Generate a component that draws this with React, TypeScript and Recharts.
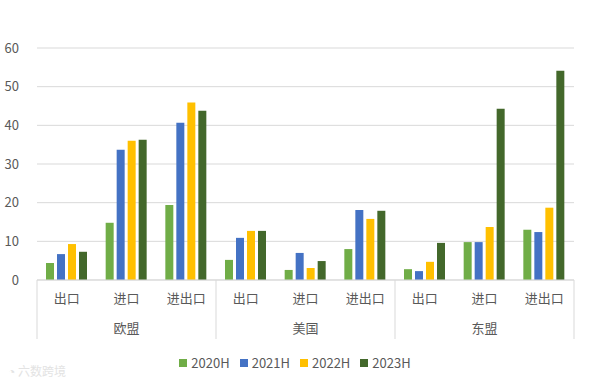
import React from "react";
import { BarChart, Bar, XAxis, YAxis, CartesianGrid, Legend } from "recharts";

const groups = ["欧盟", "美国", "东盟"];
const subs = ["出口", "进口", "进出口"];
const s2020 = [4.4, 14.8, 19.4, 5.2, 2.6, 8.0, 2.8, 9.8, 13.0];
const s2021 = [6.7, 33.7, 40.7, 10.9, 7.0, 18.1, 2.3, 9.8, 12.4];
const s2022 = [9.3, 36.0, 45.9, 12.7, 3.1, 15.8, 4.7, 13.7, 18.7];
const s2023 = [7.3, 36.3, 43.8, 12.7, 4.9, 17.9, 9.6, 44.3, 54.1];
const yTicks = [0, 10, 20, 30, 40, 50, 60];

const data = s2020.map((_, i) => ({
  key: `${groups[Math.floor(i / 3)]}-${subs[i % 3]}`,
  sub: subs[i % 3],
  group: groups[Math.floor(i / 3)],
  "2020H": s2020[i],
  "2021H": s2021[i],
  "2022H": s2022[i],
  "2023H": s2023[i],
}));

const series = [
  { key: "2020H", color: "#70AD47" },
  { key: "2021H", color: "#4472C4" },
  { key: "2022H", color: "#FFC000" },
  { key: "2023H", color: "#43682B" },
];

const FONT = "'Noto Sans CJK SC', 'Noto Sans', sans-serif";
const TEXT = "#595959";
const LINE = "#D9D9D9";
const PLOT_LEFT = 37;
const PLOT_RIGHT = 574;
const CAT_W = (PLOT_RIGHT - PLOT_LEFT) / 9;
const TICK_OFF = 8;

const CatTick = (props: any) => {
  const { x, y, index } = props;
  const top = y - TICK_OFF;
  const sub = data[index].sub;
  const grp = data[index].group;
  const els: any[] = [];
  els.push(
    <text key="s" x={x} y={top + 19} textAnchor="middle" dominantBaseline="middle" fill={TEXT} fontSize={13} fontFamily={FONT}>
      {sub}
    </text>
  );
  if (index % 3 === 1) {
    els.push(
      <text key="g" x={x} y={top + 49} textAnchor="middle" dominantBaseline="middle" fill={TEXT} fontSize={13} fontFamily={FONT}>
        {grp}
      </text>
    );
  }
  if (index % 3 === 0) {
    const lx = x - CAT_W / 2;
    els.push(<line key="l" x1={lx} x2={lx} y1={top} y2={top + 59} stroke={LINE} strokeWidth={1} />);
  }
  if (index === data.length - 1) {
    const rx = x + CAT_W / 2;
    els.push(<line key="r" x1={rx} x2={rx} y1={top} y2={top + 59} stroke={LINE} strokeWidth={1} />);
  }
  return <g>{els}</g>;
};

const LegendContent = () => (
  <div style={{ display: "flex", justifyContent: "center", fontFamily: FONT, fontSize: 13, color: TEXT }}>
    {series.map((s) => (
      <div key={s.key} style={{ display: "flex", alignItems: "center", margin: "0 5px" }}>
        <div style={{ width: 8, height: 8, background: s.color, marginRight: 4 }} />
        <span>{s.key}</span>
      </div>
    ))}
  </div>
);

export default function App() {
  return (
    <div style={{ position: "absolute", left: 0, top: 0, width: 590, height: 383, background: "#fff" }}>
      <BarChart
        width={590}
        height={383}
        data={data}
        margin={{ top: 48, right: 16, left: 0, bottom: 24 }}
        barCategoryGap={9}
        barGap={3}
      >
        <CartesianGrid vertical={false} stroke={LINE} />
        <XAxis
          dataKey="key"
          interval={0}
          tickLine={false}
          axisLine={{ stroke: LINE }}
          height={60}
          tick={<CatTick />}
        />
        <YAxis
          domain={[0, 60]}
          ticks={yTicks}
          width={37}
          axisLine={false}
          tickLine={false}
          tick={{ fill: TEXT, fontSize: 13, fontFamily: FONT }}
          tickMargin={12}
        />
        <Legend
          content={<LegendContent />}
          wrapperStyle={{ position: "absolute", top: 353, left: 0, width: 590 }}
        />
        {series.map((s) => (
          <Bar key={s.key} dataKey={s.key} fill={s.color} isAnimationActive={false} />
        ))}
      </BarChart>
      <div style={{ position: "absolute", left: 8, top: 362, fontFamily: FONT, fontSize: 12, color: "#E3E3E3" }}>
        ◔ 六数跨境
      </div>
    </div>
  );
}
